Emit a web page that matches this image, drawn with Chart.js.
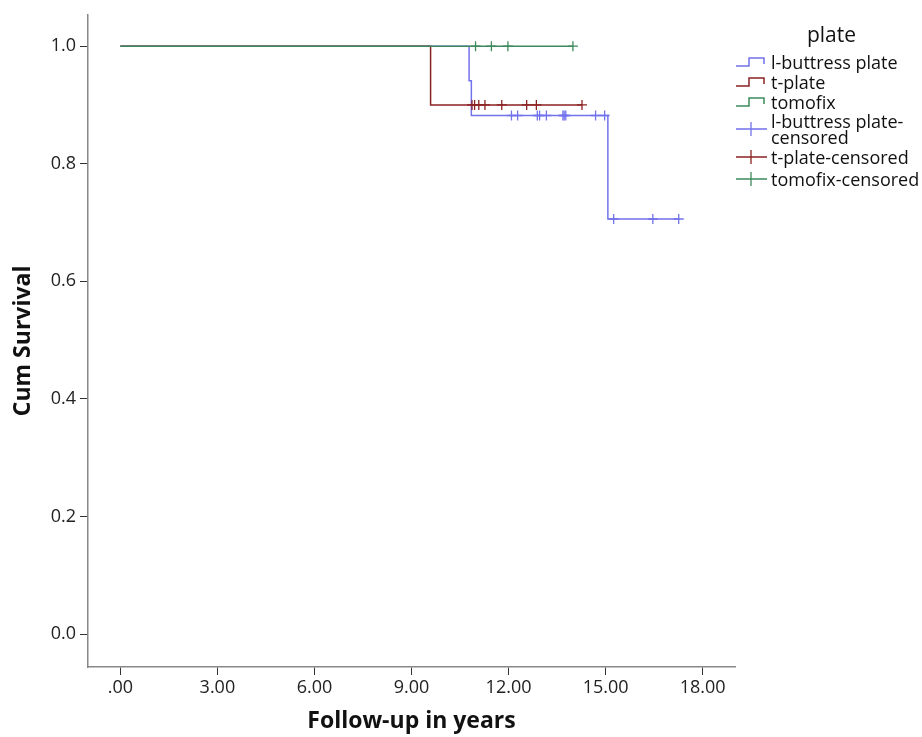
<!DOCTYPE html>
<html>
<head>
<meta charset="utf-8">
<script src="https://cdn.jsdelivr.net/npm/chart.js@4.4.0/dist/chart.umd.min.js"></script>
<style>
    body { margin: 0; background: #fff; }
    #wrap { position: relative; width: 922px; height: 737px; }
    #legend { position: absolute; left: 0; top: 0; width: 922px; height: 737px; pointer-events: none;
              font-family: "Open Sans", sans-serif; font-size: 18px; color: #111; }
    #legend .title { position: absolute; left: 738px; width: 187px; text-align: center; font-size: 21px; line-height: 28px; }
    #legend .row { position: absolute; left: 735px; display: flex; align-items: center; white-space: nowrap; }
    #legend .row svg { flex: none; margin-right: 4px; }
    #legend .row span { line-height: 16px; }
</style>
</head>
<body>
<div id="wrap">
    <canvas id="kmChart" width="922" height="737"></canvas>
    <div id="legend"></div>
</div>
<script>
// data
const plateNames   = ['l-buttress plate', 't-plate', 'tomofix'];
const plateColors  = ['#7272ec', '#8c2222', '#3d8a5c'];

const lButtressTimes    = [0, 10.78, 10.85, 15.07, 17.26];
const lButtressSurv     = [1, 0.941, 0.882, 0.706, 0.706];
const lButtressCensored = [12.09, 12.28, 12.89, 12.96, 13.17, 13.68, 13.72, 13.77, 14.69, 14.97, 15.25, 16.46, 17.26];

const tPlateTimes    = [0, 9.59, 14.27];
const tPlateSurv     = [1, 0.9, 0.9];
const tPlateCensored = [10.87, 10.95, 11.08, 11.27, 11.79, 12.56, 12.86, 14.27];

const tomofixTimes    = [0, 13.99];
const tomofixSurv     = [1, 1];
const tomofixCensored = [10.98, 11.47, 11.98, 13.99];

const xTicks      = [0, 3, 6, 9, 12, 15, 18];
const xTickLabels = ['.00', '3.00', '6.00', '9.00', '12.00', '15.00', '18.00'];
const yTicks      = [0, 0.2, 0.4, 0.6, 0.8, 1.0];
const yTickLabels = ['0.0', '0.2', '0.4', '0.6', '0.8', '1.0'];

const curves = [
    { times: lButtressTimes, surv: lButtressSurv, censored: lButtressCensored },
    { times: tPlateTimes,    surv: tPlateSurv,    censored: tPlateCensored },
    { times: tomofixTimes,   surv: tomofixSurv,   censored: tomofixCensored }
];

function survivalAt(times, surv, t) {
    let s = surv[0];
    for (let i = 0; i < times.length; i++) {
        if (times[i] <= t) s = surv[i];
    }
    return s;
}

let datasets = [];
curves.forEach((c, i) => {
    datasets.push({
        label      : plateNames[i],
        data       : c.times.map((t, k) => ({ x: t, y: c.surv[k] })),
        showLine   : true,
        stepped    : true,
        borderColor: plateColors[i],
        borderWidth: 1.5,
        pointRadius: 0,
        order      : 3 - i
    });
});
curves.forEach((c, i) => {
    datasets.push({
        label           : plateNames[i] + '-censored',
        data            : c.censored.map(t => ({ x: t, y: survivalAt(c.times, c.surv, t) })),
        showLine        : false,
        pointStyle      : 'cross',
        pointRadius     : 5,
        pointBorderWidth: 1.3,
        borderColor     : plateColors[i],
        backgroundColor : plateColors[i],
        order           : 3 - i
    });
});

const tickFont  = { family: 'Open Sans', size: 18 };
const titleFont = { family: 'Open Sans', size: 23, weight: 'bold' };

new Chart(document.getElementById('kmChart'), {
    type: 'scatter',
    data: { datasets: datasets },
    options: {
        responsive: false,
        animation : false,
        devicePixelRatio: 1,
        layout: { padding: { top: 12, right: 187, bottom: 0, left: 0 } },
        plugins: { legend: { display: false }, tooltip: { enabled: false } },
        scales: {
            x: {
                type: 'linear',
                min : -1,
                max : 19,
                afterFit: scale => { scale.height = 70; },
                afterBuildTicks: scale => { scale.ticks = xTicks.map(v => ({ value: v })); },
                ticks: {
                    color   : '#222',
                    font    : tickFont,
                    padding : 2,
                    maxRotation: 0,
                    callback: v => xTickLabels[xTicks.indexOf(v)]
                },
                grid  : { display: true, drawOnChartArea: false, drawTicks: true, tickLength: 8, color: '#333' },
                border: { display: true, color: '#888', width: 1.5 },
                title : {
                    display: true,
                    text   : 'Follow-up in years',
                    color  : '#111',
                    font   : titleFont,
                    padding: { top: 0, bottom: 2 }
                }
            },
            y: {
                type: 'linear',
                min : -0.0559,
                max : 1.0533,
                afterFit: scale => { scale.width = 88; },
                afterBuildTicks: scale => { scale.ticks = yTicks.map(v => ({ value: v })); },
                ticks: {
                    color   : '#222',
                    font    : tickFont,
                    padding : 4,
                    callback: v => yTickLabels[yTicks.indexOf(v)]
                },
                grid  : { display: true, drawOnChartArea: false, drawTicks: true, tickLength: 8, color: '#333' },
                border: { display: true, color: '#888', width: 1.5 },
                title : {
                    display: true,
                    text   : 'Cum Survival',
                    color  : '#111',
                    font   : titleFont,
                    padding: { top: 10, bottom: 0 }
                }
            }
        }
    }
});

// legend drawn as html to get the step and censor icons
function stepIcon(color) {
    return `<svg width="32" height="16"><path d="M1 12 H14 V4 H29 V10" fill="none" stroke="${color}" stroke-width="1.5"/></svg>`;
}
function censorIcon(color) {
    return `<svg width="32" height="16"><path d="M1 8 H32 M16 1 V15" fill="none" stroke="${color}" stroke-width="1.3"/></svg>`;
}

const legendRowsTop = [54, 74, 94, 113, 149, 171];
let html = `<div class="title" style="top:20px">plate</div>`;
plateNames.forEach((name, i) => {
    html += `<div class="row" style="top:${legendRowsTop[i]}px">${stepIcon(plateColors[i])}<span>${name}</span></div>`;
});
plateNames.forEach((name, i) => {
    let text = i === 0 ? 'l-buttress plate-<br>censored' : name + '-censored';
    html += `<div class="row" style="top:${legendRowsTop[i + 3]}px">${censorIcon(plateColors[i])}<span>${text}</span></div>`;
});
document.getElementById('legend').innerHTML = html;
</script>
</body>
</html>
